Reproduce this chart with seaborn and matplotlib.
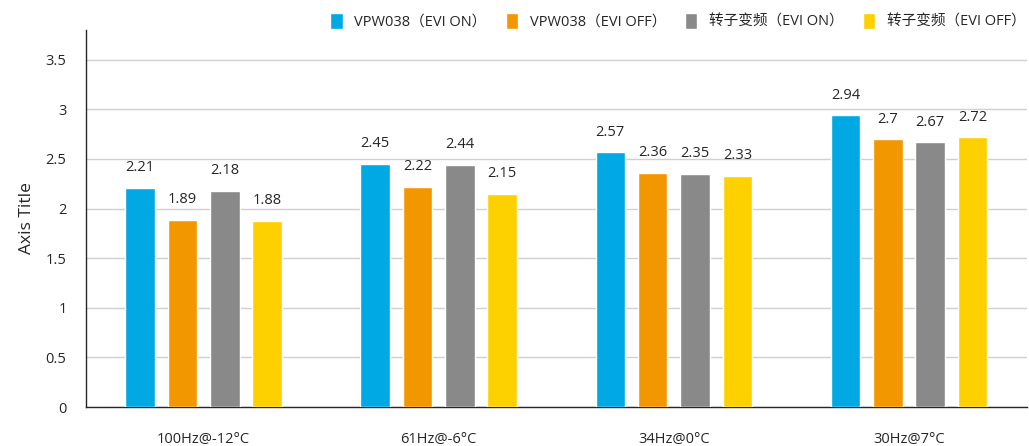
import pandas as pd
import seaborn as sns
import matplotlib.pyplot as plt

conditions = ["100Hz@-12°C", "61Hz@-6°C", "34Hz@0°C", "30Hz@7°C"]
series = ["VPW038（EVI ON）", "VPW038（EVI OFF）", "转子变频（EVI ON）", "转子变频（EVI OFF）"]
vpw_on = [2.21, 2.45, 2.57, 2.94]
vpw_off = [1.89, 2.22, 2.36, 2.70]
rotor_on = [2.18, 2.44, 2.35, 2.67]
rotor_off = [1.88, 2.15, 2.33, 2.72]
colors = ["#00A9E3", "#F39700", "#898989", "#FDD000"]

rows = []
for name, vals in zip(series, [vpw_on, vpw_off, rotor_on, rotor_off]):
    for cond, v in zip(conditions, vals):
        rows.append({"Condition": cond, "Series": name, "Value": v})
df = pd.DataFrame(rows)

sns.set_theme(style="white")
plt.rcParams['font.family'] = ['Open Sans', 'Noto Sans CJK SC', 'DejaVu Sans']

fig = plt.figure(figsize=(10.29, 4.46), dpi=100)
ax = fig.add_axes([0.0836, 0.0874, 0.914, 0.8453])

sns.barplot(data=df, x="Condition", y="Value", hue="Series", order=conditions,
            hue_order=series, palette=colors, width=0.72, gap=0.3,
            saturation=1, errorbar=None, ax=ax, zorder=3)

for container in ax.containers:
    ax.bar_label(container, fmt='%g', padding=9, fontsize=10.5, color="#262626")

ax.set_ylim(0, 3.8)
ax.set_yticks([0, 0.5, 1, 1.5, 2, 2.5, 3, 3.5])
ax.set_yticklabels(["0", "0.5", "1", "1.5", "2", "2.5", "3", "3.5"])
ax.yaxis.grid(True, color="#d0d0d0", linewidth=1, zorder=0)
ax.set_axisbelow(True)
ax.set_xlabel("")
ax.set_ylabel("Axis Title", fontsize=12.5, color="#262626", labelpad=8)
ax.tick_params(axis='y', length=0, pad=14, labelsize=10.5, labelcolor="#262626")
ax.tick_params(axis='x', length=0, pad=18, labelsize=10.5, labelcolor="#262626")
for s in ["top", "right"]:
    ax.spines[s].set_visible(False)
for s in ["left", "bottom"]:
    ax.spines[s].set_color("#262626")
    ax.spines[s].set_linewidth(1)

ax.legend(loc="lower right", bbox_to_anchor=(1.005, 0.985), ncol=4, frameon=False,
          fontsize=10.5, handlelength=0.85, handleheight=1.25, handletextpad=0.8,
          columnspacing=1.3, borderaxespad=0)

fig.savefig("out.png", dpi=100)
